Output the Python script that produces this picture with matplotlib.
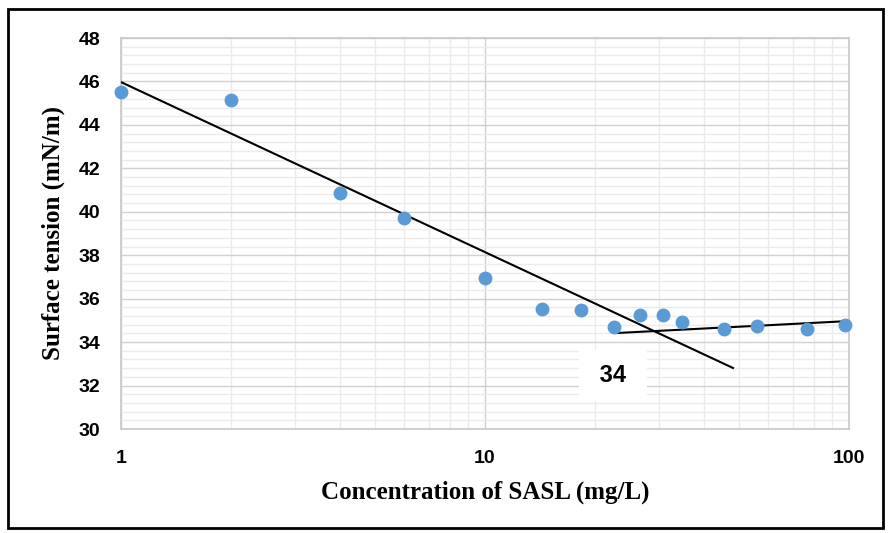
import matplotlib
matplotlib.use("Agg")
import matplotlib.pyplot as plt
from matplotlib.ticker import FixedLocator, NullFormatter
from matplotlib.patches import Rectangle

# Data
conc = [1, 2, 4, 6, 10, 14.3, 18.3, 22.6, 26.7, 30.8, 34.8, 45.4, 55.9, 76.7, 97.5]
tension = [45.5, 45.15, 40.86, 39.71, 36.95, 35.52, 35.48, 34.7, 35.25, 35.25, 34.93, 34.6, 34.74, 34.6, 34.79]

line1_x = [1, 48]
line1_y = [45.97, 32.81]
line2_x = [23.1, 100]
line2_y = [34.42, 34.97]

cmc_label = "34"
cmc_pos = (22.5, 32.45)

y_ticks = [30, 32, 34, 36, 38, 40, 42, 44, 46, 48]
x_ticks = [1, 10, 100]
x_tick_labels = ["1", "10", "100"]

fig = plt.figure(figsize=(8.88, 5.33), dpi=100)
ax = fig.add_axes([121/888, 1-429/533, (849-121)/888, (429-38)/533])

ax.set_xscale("log")
ax.set_xlim(1, 100)
ax.set_ylim(30, 48)

# grid
ax.xaxis.set_major_locator(FixedLocator(x_ticks))
ax.xaxis.set_minor_locator(FixedLocator([m*d for d in (1, 10) for m in range(2, 10)]))
ax.xaxis.set_minor_formatter(NullFormatter())
ax.yaxis.set_major_locator(FixedLocator(y_ticks))
ax.yaxis.set_minor_locator(FixedLocator([30 + 0.4*i for i in range(46) if i % 5 != 0]))
ax.grid(which="major", color="#d0d0d0", linewidth=1.0, zorder=0)
ax.grid(which="minor", color="#ebebeb", linewidth=1.0, zorder=0)
ax.set_axisbelow(True)

for s in ax.spines.values():
    s.set_color("#c8c8c8")
    s.set_linewidth(1.2)

ax.tick_params(which="both", length=0)
ax.tick_params(axis="y", pad=15)
ax.tick_params(axis="x", pad=15)
ax.set_xticklabels(x_tick_labels)
for lab in ax.get_xticklabels() + ax.get_yticklabels():
    lab.set_fontfamily("Liberation Sans")
    lab.set_fontweight("bold")
    lab.set_fontsize(14)

ax.plot(line1_x, line1_y, color="black", linewidth=1.5, zorder=3)
ax.plot(line2_x, line2_y, color="black", linewidth=1.5, zorder=3)
ax.plot(conc, tension, linestyle="none", marker="o", markersize=10,
        color="#5b9bd5", markeredgewidth=0, zorder=4, clip_on=False)

ax.text(cmc_pos[0], cmc_pos[1], " " + cmc_label + " ", ha="center", va="center",
        fontsize=17, fontweight="bold", family="Liberation Sans", zorder=5,
        bbox=dict(boxstyle="square,pad=0.6", facecolor="white", edgecolor="none"))

ax.set_xlabel("Concentration of SASL (mg/L)", fontsize=18, fontweight="bold",
              family="Liberation Serif", labelpad=10)
ax.set_ylabel("Surface tension (mN/m)", fontsize=18, fontweight="bold",
              family="Liberation Serif", labelpad=10)

fig.patches.append(Rectangle((8/888, 1-528/533), (883-8)/888, (528-9)/533,
                             transform=fig.transFigure, fill=False,
                             edgecolor="black", linewidth=2))

fig.savefig("out.png", dpi=100)
